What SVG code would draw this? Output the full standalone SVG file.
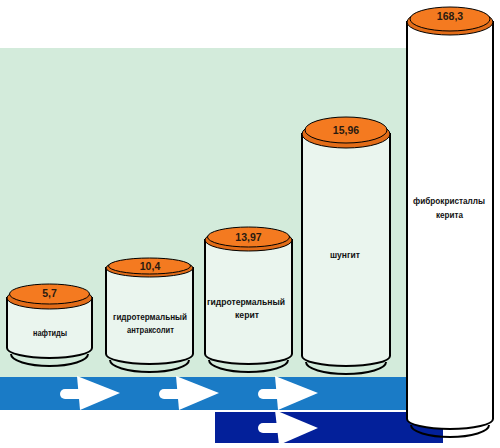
<svg xmlns="http://www.w3.org/2000/svg" width="500" height="448" viewBox="0 0 500 448">
<style>
.body{fill:#EAF5EE;stroke:#000;stroke-width:2}
.bigbody{fill:#FFFFFF;stroke:#000;stroke-width:2}
.base{fill:none;stroke:#000;stroke-width:2}
.rim{fill:#E26C18;stroke:#000;stroke-width:1}
.lid{fill:#F47A20;stroke:#000;stroke-width:1}
.num{font-family:"Liberation Sans",Arial,sans-serif;font-weight:bold;font-size:10.5px;fill:#2a1a10;text-anchor:middle}
.lbl{font-family:"Liberation Sans",Arial,sans-serif;font-weight:bold;font-size:9px;fill:#111;text-anchor:middle}
.arrow{fill:#FFFFFF}
</style>
<rect x="0" y="48" width="412" height="329" fill="#D3EBDB"/>
<rect x="0" y="377" width="412" height="33" fill="#1A7BC6"/>
<rect x="215" y="412" width="228" height="31" fill="#03209A"/>
<g id="connectors">
<g class="arrow">
<rect x="60" y="389" width="24" height="10" rx="5"/>
<path d="M77 376 L120 393 L80 410 Z"/>
<rect x="159" y="389" width="24" height="10" rx="5"/>
<path d="M176 376 L219 393 L179 410 Z"/>
<rect x="258" y="389" width="24" height="10" rx="5"/>
<path d="M275 376 L318 393 L278 410 Z"/>
<rect x="258" y="423" width="24" height="10" rx="5"/>
<path d="M275 410 L318 428 L279 445 Z"/>
</g>
</g>
<g id="naftidy">
<path class="body" d="M7 298 V348 A42.5 10 0 0 0 92 348 V298 Z"/>
<path class="base" d="M11 354 A38.5 12 0 0 0 88 354"/>
<ellipse class="rim" cx="49.5" cy="298" rx="42.5" ry="11"/>
<ellipse class="lid" cx="49.5" cy="294" rx="40" ry="10"/>
<text class="num" x="49.5" y="297">5,7</text>
<text class="lbl" x="50" y="336" textLength="34" lengthAdjust="spacingAndGlyphs">нафтиды</text>
</g>
<g id="antraksolit">
<path class="body" d="M106 268 V354 A43.5 10 0 0 0 193 354 V268 Z"/>
<path class="base" d="M110 360 A39.5 12 0 0 0 189 360"/>
<ellipse class="rim" cx="149.5" cy="268" rx="43.5" ry="9"/>
<ellipse class="lid" cx="149.5" cy="266" rx="41" ry="8"/>
<text class="num" x="150" y="270">10,4</text>
<text class="lbl" x="150" y="320" textLength="74" lengthAdjust="spacingAndGlyphs">гидротермальный</text>
<text class="lbl" x="150.5" y="333" textLength="47" lengthAdjust="spacingAndGlyphs">антраксолит</text>
</g>
<g id="kerit">
<path class="body" d="M205 240 V354 A43.5 10 0 0 0 292 354 V240 Z"/>
<path class="base" d="M209 360 A39.5 12 0 0 0 288 360"/>
<ellipse class="rim" cx="248.5" cy="240" rx="43.5" ry="11"/>
<ellipse class="lid" cx="248.5" cy="237" rx="41" ry="10"/>
<text class="num" x="248.5" y="241">13,97</text>
<text class="lbl" x="246" y="305" textLength="78" lengthAdjust="spacingAndGlyphs">гидротермальный</text>
<text class="lbl" x="247" y="318" textLength="24" lengthAdjust="spacingAndGlyphs">керит</text>
</g>
<g id="shungit">
<path class="body" d="M302 134 V356 A44 10 0 0 0 390 356 V134 Z"/>
<path class="base" d="M306 362 A40 12 0 0 0 386 362"/>
<ellipse class="rim" cx="346" cy="134" rx="44" ry="14"/>
<ellipse class="lid" cx="346" cy="130" rx="41" ry="13"/>
<text class="num" x="346" y="134">15,96</text>
<text class="lbl" x="345" y="258" textLength="30" lengthAdjust="spacingAndGlyphs">шунгит</text>
</g>
<g id="fibrokristally">
<path class="bigbody" d="M407 22 V419 A43 10 0 0 0 493 419 V22 Z"/>
<path class="base" d="M411 425 A39 12 0 0 0 489 425"/>
<ellipse class="rim" cx="450" cy="22" rx="43" ry="13"/>
<ellipse class="lid" cx="450" cy="19" rx="40" ry="12"/>
<text class="num" x="450" y="20">168,3</text>
<text class="lbl" x="449" y="204" textLength="72" lengthAdjust="spacingAndGlyphs">фиброкристаллы</text>
<text class="lbl" x="449.5" y="218" textLength="27" lengthAdjust="spacingAndGlyphs">керита</text>
</g>
</svg>
